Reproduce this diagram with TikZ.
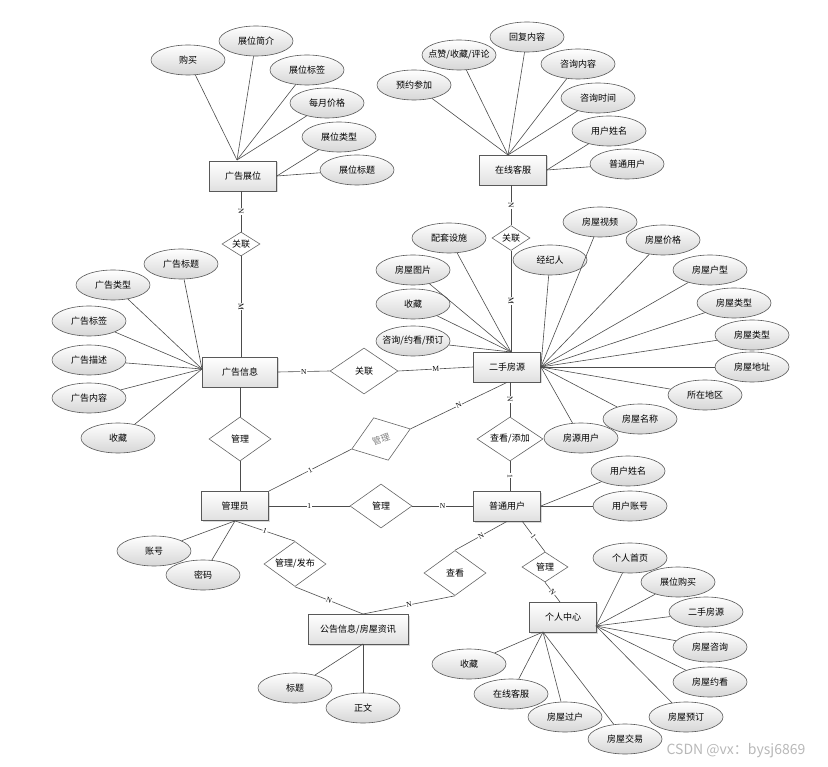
\documentclass[tikz,border=0pt]{standalone}
\usepackage{fontspec}
\setmainfont{Noto Sans CJK SC}
\newfontfamily\cardfont{Liberation Serif}
\usetikzlibrary{shapes.geometric,shadows}
\begin{document}
\begin{tikzpicture}[x=1pt,y=-1pt,
  every node/.style={font=\fontsize{9}{11}\selectfont},
  ent/.style={draw=black!65, line width=0.8pt, rectangle, minimum width=67pt, minimum height=30pt, inner sep=1pt,
    top color=white, bottom color=black!12, drop shadow={opacity=0.3, shadow xshift=1.5pt, shadow yshift=-1.5pt}},
  attr/.style={draw=black!65, line width=0.6pt, ellipse, minimum width=74pt, minimum height=30pt, inner sep=0pt,
    top color=white, bottom color=black!16},
  rel/.style={draw=black!60, line width=0.6pt, diamond, inner sep=0pt, fill=white},
  ln/.style={draw=black!70, line width=0.6pt},
  card/.style={midway, sloped, fill=white, inner sep=0.6pt, font=\cardfont\fontsize{7.5}{8}\selectfont}
]
\useasboundingbox (0,0) rectangle (828,767);

% ---------- entities ----------
\node[ent] (zw) at (243,176) {广告展位};
\node[ent] (kf) at (513,170) {在线客服};
\node[ent, minimum width=75pt] (gg) at (240,372) {广告信息};
\node[ent] (fy) at (507,367) {二手房源};
\node[ent, minimum height=29pt] (gly) at (235,506) {管理员};
\node[ent] (pt) at (507,506) {普通用户};
\node[ent, minimum width=100pt] (gx) at (358,629) {公告信息/房屋资讯};
\node[ent] (gr) at (563,617) {个人中心};

% ---------- relationships ----------
\node[rel, aspect=1.6, minimum width=38pt, minimum height=24pt] (r1) at (241,244) {关联};
\node[rel, aspect=1.6, minimum width=38pt, minimum height=25pt] (r2) at (511,238) {关联};
\node[rel, minimum width=68pt, minimum height=46pt] (r3) at (364,371) {关联};
\node[rel, minimum width=62pt, minimum height=44pt] (m1) at (240,439) {管理};
\node[rel, minimum width=62pt, minimum height=45pt, rotate=19, text=black!50] (m2) at (381,439) {管理};
\node[rel, aspect=1.5, minimum width=66pt, minimum height=44pt] (ck) at (510,439) {查看/添加};
\node[rel, minimum width=62pt, minimum height=44pt] (m3) at (381,506) {管理};
\node[rel, aspect=1.5, minimum width=62pt, minimum height=45pt] (fb) at (295,564) {管理/发布};
\node[rel, minimum width=62pt, minimum height=45pt] (ckk) at (455,573) {查看};
\node[rel, aspect=1.6, minimum width=46pt, minimum height=30pt] (m4) at (545,567) {管理};

% ---------- helper points ----------
\coordinate (zwT) at (237,160);
\coordinate (kfT) at (508,155);
\coordinate (ggL) at (202,369);
\coordinate (fyT) at (511,352);
\coordinate (gxT) at (363,614);
\coordinate (gxB) at (363,644);
\coordinate (ptB) at (522,521);
\coordinate (grT) at (560,602);
\coordinate (grR) at (596,626);
\coordinate (grB) at (543,632);

% ---------- relationship connectors ----------
\draw[ln] (r1.north |- zw.south) -- node[card]{N} (r1.north);
\draw[ln] (r1.south) -- node[card]{M} (r1.south |- gg.north);
\draw[ln] (r2.north |- kf.south) -- node[card]{N} (r2.north);
\draw[ln] (r2.south) -- node[card]{M} (r2.south |- fy.north);
\draw[ln] (gg.east) -- node[card]{N} (r3.west);
\draw[ln] (r3.east) -- node[card]{M} (fy.west);
\draw[ln] (m1.north |- gg.south) -- (m1.north);
\draw[ln] (m1.south) -- (m1.south |- gly.north);
\draw[ln] (ck.north |- fy.south) -- node[card]{N} (ck.north);
\draw[ln] (ck.south) -- node[card]{1} (ck.south |- pt.north);
\draw[ln] (gly.east) -- node[card]{1} (m3.west);
\draw[ln] (m3.east) -- node[card]{N} (pt.west);
\draw[ln] (gly.north east) -- node[card]{1} (m2.west);
\draw[ln] (m2.east) -- node[card]{N} (fy.south);
\draw[ln] (gly.south) -- node[card]{1} (fb.north);
\draw[ln] (fb.south) -- node[card]{N} (gxT);
\draw[ln] (pt.south) -- node[card]{N} (ckk.north);
\draw[ln] (ckk.south) -- node[card]{N} (gxT);
\draw[ln] (ptB) -- node[card]{1} (m4.north);
\draw[ln] (m4.south) -- node[card]{N} (grT);

% ---------- 广告展位 attributes ----------
\node[attr] (zw1) at (188,60) {购买};
\node[attr] (zw2) at (256,41) {展位简介};
\node[attr] (zw3) at (307,70) {展位标签};
\node[attr] (zw4) at (327,103) {每月价格};
\node[attr] (zw5) at (339,137) {展位类型};
\node[attr] (zw6) at (357,170) {展位标题};
\draw[ln] (zw1) -- (zwT);
\draw[ln] (zw2) -- (zwT);
\draw[ln] (zw3) -- (zwT);
\draw[ln] (zw4) -- (zwT);
\draw[ln] (zw5) -- (zw.east);
\draw[ln] (zw6) -- (zw.east);

% ---------- 在线客服 attributes ----------
\node[attr] (kf1) at (414,85) {预约参加};
\node[attr] (kf2) at (459,55) {\makebox[0pt]{点赞/收藏/评论}};
\node[attr] (kf3) at (527,37) {回复内容};
\node[attr] (kf4) at (578,64) {咨询内容};
\node[attr] (kf5) at (598,98) {咨询时间};
\node[attr] (kf6) at (609,131) {用户姓名};
\node[attr] (kf7) at (627,164) {普通用户};
\draw[ln] (kf1) -- (kfT);
\draw[ln] (kf2) -- (kfT);
\draw[ln] (kf3) -- (kfT);
\draw[ln] (kf4) -- (kfT);
\draw[ln] (kf5) -- (kfT);
\draw[ln] (kf6) -- (kf.east);
\draw[ln] (kf7) -- (kf.east);

% ---------- 广告信息 attributes ----------
\node[attr] (gg1) at (181,264) {广告标题};
\node[attr] (gg2) at (113,285) {广告类型};
\node[attr] (gg3) at (89,321) {广告标签};
\node[attr] (gg4) at (89,360) {广告描述};
\node[attr] (gg5) at (89,398) {广告内容};
\node[attr] (gg6) at (118,438) {收藏};
\draw[ln] (gg1) -- (ggL);
\draw[ln] (gg2) -- (ggL);
\draw[ln] (gg3) -- (ggL);
\draw[ln] (gg4) -- (ggL);
\draw[ln] (gg5) -- (ggL);
\draw[ln] (gg6) -- (ggL);

% ---------- 二手房源 attributes ----------
\node[attr] (fy1) at (449,238) {配套设施};
\node[attr] (fy2) at (413,270) {房屋图片};
\node[attr] (fy3) at (413,304) {收藏};
\node[attr] (fy4) at (413,341) {\makebox[0pt]{咨询/约看/预订}};
\node[attr] (fy5) at (550,260) {经纪人};
\node[attr] (fy6) at (600,222) {房屋视频};
\node[attr] (fy7) at (663,240) {房屋价格};
\node[attr] (fy8) at (710,270) {房屋户型};
\node[attr] (fy9) at (734,303) {房屋类型};
\node[attr] (fy10) at (752,335) {房屋类型};
\node[attr] (fy11) at (752,367) {房屋地址};
\node[attr] (fy12) at (705,395) {所在地区};
\node[attr] (fy13) at (640,419) {房屋名称};
\node[attr] (fy14) at (581,438) {房源用户};
\draw[ln] (fy1) -- (fyT);
\draw[ln] (fy2) -- (fyT);
\draw[ln] (fy3) -- (fyT);
\draw[ln] (fy4) -- (fyT);
\draw[ln] (fy5) -- (fy.east);
\draw[ln] (fy6) -- (fy.east);
\draw[ln] (fy7) -- (fy.east);
\draw[ln] (fy8) -- (fy.east);
\draw[ln] (fy9) -- (fy.east);
\draw[ln] (fy10) -- (fy.east);
\draw[ln] (fy11) -- (fy.east);
\draw[ln] (fy12) -- (fy.east);
\draw[ln] (fy13) -- (fy.east);
\draw[ln] (fy14) -- (fy.east);

% ---------- 管理员 attributes ----------
\node[attr] (gl1) at (154,551) {账号};
\node[attr] (gl2) at (203,575) {密码};
\draw[ln] (gl1) -- (gly.south);
\draw[ln] (gl2) -- (gly.south);

% ---------- 普通用户 attributes ----------
\node[attr] (pt1) at (628,471) {用户姓名};
\node[attr] (pt2) at (630,506) {用户账号};
\draw[ln] (pt1) -- (pt.east);
\draw[ln] (pt2) -- (pt.east);

% ---------- 公告信息 attributes ----------
\node[attr] (gx1) at (295,688) {标题};
\node[attr] (gx2) at (363,708) {正文};
\draw[ln] (gx1) -- (gxB);
\draw[ln] (gx2) -- (gxB);

% ---------- 个人中心 attributes ----------
\node[attr] (gr1) at (630,558) {个人首页};
\node[attr] (gr2) at (678,582) {展位购买};
\node[attr] (gr3) at (706,612) {二手房源};
\node[attr] (gr4) at (710,647) {房屋咨询};
\node[attr] (gr5) at (710,682) {房屋约看};
\node[attr] (gr6) at (686,717) {房屋预订};
\node[attr] (gr7) at (469,664) {收藏};
\node[attr] (gr8) at (511,694) {在线客服};
\node[attr] (gr9) at (565,717) {房屋过户};
\node[attr] (gr10) at (625,739) {房屋交易};
\draw[ln] (gr1) -- (grR);
\draw[ln] (gr2) -- (grR);
\draw[ln] (gr3) -- (grR);
\draw[ln] (gr4) -- (grR);
\draw[ln] (gr5) -- (grR);
\draw[ln] (gr6) -- (grR);
\draw[ln] (gr7) -- (grB);
\draw[ln] (gr8) -- (grB);
\draw[ln] (gr9) -- (grB);
\draw[ln] (gr10) -- (grB);

% ---------- watermark ----------
\node[text=black!28, font=\fontsize{14}{16}\selectfont, inner sep=0pt] (wm) at (736,751) {CSDN @vx：bysj6869};
\end{tikzpicture}
\end{document}
